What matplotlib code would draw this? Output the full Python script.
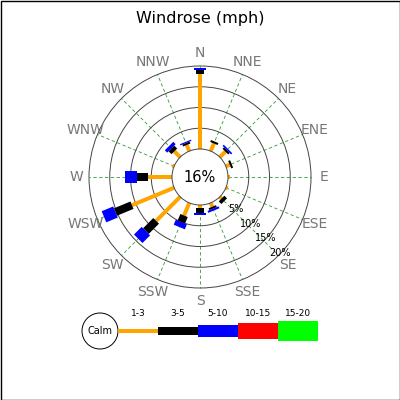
import matplotlib; matplotlib.use("Agg")
import matplotlib.pyplot as plt
from matplotlib.patches import Polygon, Circle, Rectangle
import numpy as np

dirs = ["N","NNE","NE","ENE","E","ESE","SE","SSE","S","SSW","SW","WSW","W","WNW","NW","NNW"]
# cumulative percent per speed class (1-3, 3-5, 5-10)
p13 = [18.0, 2.0, 1.9, 1.0, 0.5, 0.5, 0.6, 1.0, 0.8, 3.3, 8.2, 11.0, 5.7, 0.5, 2.0, 1.6]
p35 = [19.0, 2.5, 2.4, 1.5, 0.5, 0.5, 1.5, 1.5, 2.0, 5.0, 11.7, 15.3, 8.5, 0.5, 3.0, 2.1]
p510 = [19.5, 2.5, 2.8, 1.5, 0.5, 0.5, 1.5, 2.0, 2.5, 6.3, 14.3, 18.3, 11.4, 0.5, 3.8, 2.4]
calm = 16
rings = [5, 10, 15, 20]
classes = ["1-3", "3-5", "5-10", "10-15", "15-20"]
cols = ["orange", "black", "blue", "red", "#00FF00"]
widths = [4, 8, 12, 16, 20]

CX, CY, R0, K = 200, 177, 28, 4.15
def rad(p): return R0 + K * p

fig = plt.figure(figsize=(4, 4), dpi=100)
ax = fig.add_axes([0, 0, 1, 1]); ax.set_xlim(0, 400); ax.set_ylim(400, 0); ax.axis("off")
ax.add_patch(Rectangle((0.5, 0.5), 399, 399, fill=False, ec="black", lw=1))
ax.text(200, 18, "Windrose (mph)", ha="center", va="center", fontsize=11.5)

for i, d in enumerate(dirs):
    a = np.deg2rad(i * 22.5); ux, uy = np.sin(a), -np.cos(a)
    ax.plot([CX + R0 * ux, CX + rad(20) * ux], [CY + R0 * uy, CY + rad(20) * uy], color="#339933", ls=(0, (4, 3)), lw=0.6, zorder=1)
    ax.text(CX + 124 * ux, CY + 124 * uy, d, ha="center", va="center", fontsize=10, color="#777777")
for r in rings:
    ax.add_patch(Circle((CX, CY), rad(r), fill=False, ec="#444444", lw=0.7, zorder=1))
b = np.deg2rad(134)
for r in rings:
    ax.text(CX + (rad(r) - 2) * np.sin(b) + 2, CY - (rad(r) - 2) * np.cos(b), f"{r}%", ha="center", va="center", fontsize=7)

def bar(a, p0, p1, w, c, z):
    ux, uy = np.sin(a), -np.cos(a); nx, ny = -uy, ux
    r0, r1 = rad(p0), rad(p1)
    pts = [(CX + r0 * ux + s * nx * w / 2, CY + r0 * uy + s * ny * w / 2) for s in (1, -1)]
    pts += [(CX + r1 * ux - s * nx * w / 2, CY + r1 * uy - s * ny * w / 2) for s in (1, -1)]
    ax.add_patch(Polygon(pts, closed=True, fc=c, ec="none", zorder=z))

for i in range(len(dirs)):
    a = np.deg2rad(i * 22.5)
    lo = 0
    for j, cum in enumerate([p13[i], p35[i], p510[i]]):
        if cum > lo:
            bar(a, lo, cum, widths[j], cols[j], 3 + j)
        lo = cum

ax.add_patch(Circle((CX, CY), R0, fc="white", ec="#444444", lw=0.7, zorder=6))
ax.text(CX, CY, f"{calm}%", ha="center", va="center", fontsize=10.5, zorder=7)

# legend
LY = 331
ax.add_patch(Circle((100, LY), 18, fc="white", ec="black", lw=0.7))
ax.text(100, LY, "Calm", ha="center", va="center", fontsize=7)
for j, (lab, c, w) in enumerate(zip(classes, cols, widths)):
    x0 = 118 + j * 40
    ax.add_patch(Rectangle((x0, LY - w / 2), 40, w, fc=c, ec="none"))
    ax.text(x0 + 20, 313, lab, ha="center", va="center", fontsize=6.5)
fig.savefig("out.png", dpi=100)
